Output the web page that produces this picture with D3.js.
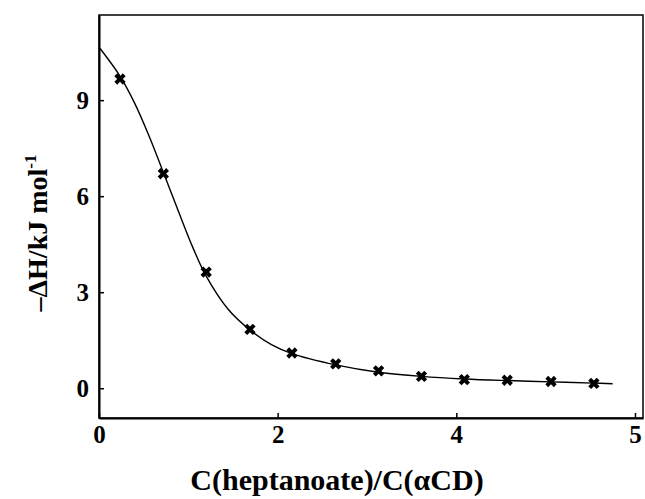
<!DOCTYPE html>
<html>
<head>
<meta charset="utf-8">
<script src="https://cdn.jsdelivr.net/npm/d3@7"></script>
<style>
  body { margin: 0; background: #fff; }
  text { font-family: "Liberation Serif", "DejaVu Serif", serif; font-weight: bold; fill: #000; }
</style>
</head>
<body>
<svg id="chart" width="645" height="499"></svg>
<script>
// measured points
const ratioX = [0.235, 0.72, 1.2, 1.69, 2.16, 2.65, 3.13, 3.61, 4.09, 4.57, 5.06, 5.54];
const enthalpy = [9.66, 6.70, 3.63, 1.84, 1.10, 0.76, 0.54, 0.37, 0.27, 0.25, 0.21, 0.15];

// fitted curve
const fitX = [0.01, 0.235, 0.4, 0.55, 0.72, 0.9, 1.05, 1.2, 1.45, 1.69, 1.93, 2.16, 2.65, 3.13, 3.61, 4.09, 4.57, 5.06, 5.54, 5.75];
const fitY = [10.62, 9.75, 8.9, 7.95, 6.75, 5.45, 4.4, 3.5, 2.45, 1.82, 1.36, 1.08, 0.73, 0.5, 0.37, 0.29, 0.24, 0.2, 0.16, 0.14];

const xTicks = [0, 2, 4, 6];
const xTickLabels = ["0", "2", "4", "5"];
const yTicks = [0, 3, 6, 9];

const svg = d3.select("#chart");
const mLeft = 99, mRight = 643, mTop = 15, mBottom = 418;

const x = d3.scaleLinear().domain([0, 6.09]).range([mLeft, mRight]);
const y = d3.scaleLinear().domain([-0.93, 11.66]).range([mBottom, mTop]);

// frame
svg.append("rect")
  .attr("x", mLeft).attr("y", mTop)
  .attr("width", mRight - mLeft).attr("height", mBottom - mTop)
  .attr("fill", "none").attr("stroke", "#000").attr("stroke-width", 1.5);

// axes with inward ticks
const xAxis = svg.append("g")
  .attr("transform", `translate(0,${mBottom})`)
  .call(d3.axisBottom(x).tickValues(xTicks).tickSizeInner(-5).tickSizeOuter(0)
    .tickFormat((d, i) => xTickLabels[i]));
xAxis.select(".domain").attr("stroke-width", 2);
xAxis.selectAll(".tick line").attr("stroke-width", 1.5);
xAxis.selectAll(".tick text")
  .attr("y", 25).attr("dy", 0).attr("font-size", 25)
  .style("font-family", "Liberation Serif, serif").style("font-weight", "bold");

const yAxis = svg.append("g")
  .attr("transform", `translate(${mLeft},0)`)
  .call(d3.axisLeft(y).tickValues(yTicks).tickSizeInner(-5).tickSizeOuter(0));
yAxis.select(".domain").attr("stroke-width", 2);
yAxis.selectAll(".tick line").attr("stroke-width", 1.5);
yAxis.selectAll(".tick text")
  .attr("x", -10).attr("font-size", 25)
  .style("font-family", "Liberation Serif, serif").style("font-weight", "bold");

// fit curve
const fit = fitX.map((d, i) => [d, fitY[i]]);
svg.append("path")
  .datum(fit)
  .attr("fill", "none")
  .attr("stroke", "#000")
  .attr("stroke-width", 1.4)
  .attr("d", d3.line().x(d => x(d[0])).y(d => y(d[1])).curve(d3.curveCatmullRom.alpha(0.5)));

// markers
const marker = d3.symbol().type(d3.symbolCross).size(80);
svg.append("g")
  .selectAll("path")
  .data(ratioX)
  .enter()
  .append("path")
  .attr("d", marker)
  .attr("fill", "#000")
  .attr("transform", (d, i) => `translate(${x(d)},${y(enthalpy[i])}) rotate(45)`);

// axis titles
svg.append("text")
  .attr("x", 337).attr("y", 490)
  .attr("text-anchor", "middle")
  .attr("font-size", 30)
  .text("C(heptanoate)/C(\u03B1CD)");

const yTitle = svg.append("text")
  .attr("transform", "translate(47,233) rotate(-90)")
  .attr("text-anchor", "middle")
  .attr("font-size", 28);
yTitle.append("tspan").text("\u2013\u0394H/kJ mol");
yTitle.append("tspan").attr("font-size", 17).attr("dy", -11).text("-1");
</script>
</body>
</html>
